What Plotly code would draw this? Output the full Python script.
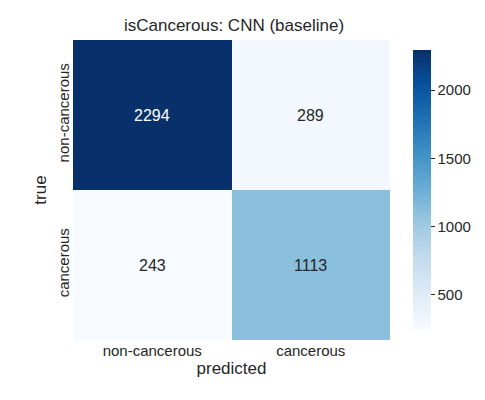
import plotly.graph_objects as go

categories = ["non-cancerous", "cancerous"]
values = [[2294, 289], [243, 1113]]
title = "isCancerous: CNN (baseline)"

blues = [[0.0, "#f7fbff"], [0.125, "#deebf7"], [0.25, "#c6dbef"], [0.375, "#9ecae1"],
         [0.5, "#6baed6"], [0.625, "#4292c6"], [0.75, "#2171b5"], [0.875, "#08519c"], [1.0, "#08306b"]]
zmin = min(min(r) for r in values)
zmax = max(max(r) for r in values)

fig = go.Figure(go.Heatmap(
    z=values, x=categories, y=categories, colorscale=blues, zmin=zmin, zmax=zmax,
    colorbar=dict(thickness=18, len=1, lenmode="fraction", x=1.04, xanchor="left", y=0.5,
                  tickvals=[500, 1000, 1500, 2000], outlinewidth=0, ticks="outside",
                  ticklen=4, tickcolor="#262626", tickfont=dict(size=15, color="#262626")),
    showscale=True, xgap=0, ygap=0))

ann = []
for i, row in enumerate(values):
    for j, v in enumerate(row):
        frac = (v - zmin) / (zmax - zmin)
        ann.append(dict(x=categories[j], y=categories[i], text=str(v), showarrow=False,
                        font=dict(size=16, color="white" if frac > 0.5 else "#262626")))

fig.update_layout(
    width=485, height=400, margin=dict(l=65, r=98, t=32, b=68),
    paper_bgcolor="white", plot_bgcolor="white",
    font=dict(family="Liberation Sans, Arial, sans-serif", color="#262626"),
    title=dict(text=title, x=(65 + 387) / 2 / 485, xanchor="center", y=1 - 17 / 400, yanchor="middle",
               font=dict(size=17)),
    annotations=ann,
    xaxis=dict(title=dict(text="predicted", font=dict(size=17), standoff=4), tickfont=dict(size=15),
               showgrid=False, zeroline=False, ticks="", ticklen=0),
    yaxis=dict(title=dict(text="true", font=dict(size=17), standoff=4), tickfont=dict(size=15),
               autorange="reversed", tickangle=-90, showgrid=False, zeroline=False, ticks=""),
)
fig.write_html("out.html")
